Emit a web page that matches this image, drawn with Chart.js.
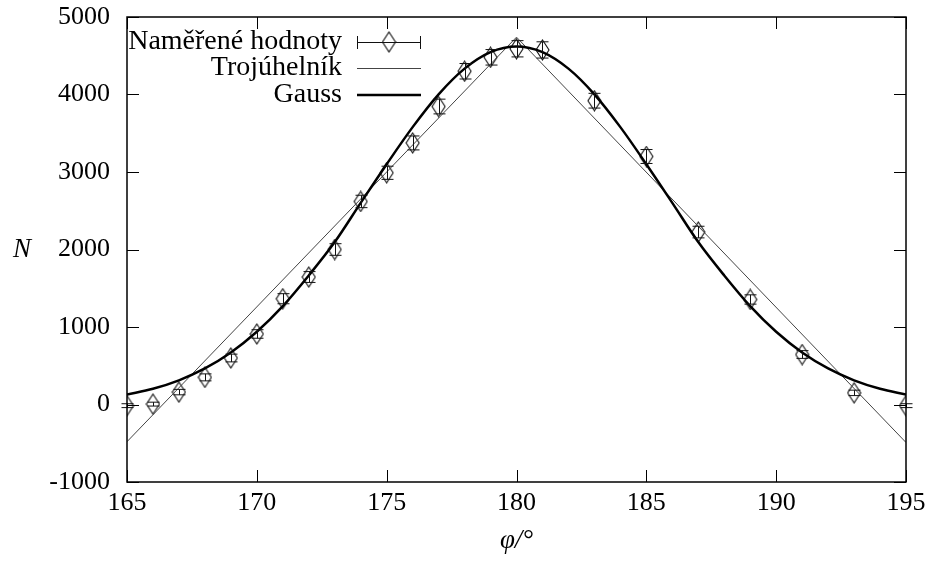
<!DOCTYPE html>
<html>
<head>
<meta charset="utf-8">
<script src="https://cdn.jsdelivr.net/npm/chart.js@4.4.1/dist/chart.umd.min.js"></script>
<style>
  html, body { margin: 0; padding: 0; background: #fff; }
  #wrap { width: 930px; height: 562px; }
</style>
</head>
<body>
<div id="wrap"><canvas id="graf"></canvas></div>
<script>
// DATA
const mereniX = [165,166,167,168,169,170,171,172,173,174,175,176,177,178,179,180,181,183,185,187,189,191,193,195];
const mereniY = [-15,5,160,350,600,910,1365,1645,2000,2620,2990,3375,3845,4300,4480,4590,4575,3920,3200,2225,1355,645,150,-15];
const mereniErr = [25,25,35,45,50,55,65,70,75,80,85,90,95,100,100,105,105,95,90,75,60,50,35,25];

const trojX = [165,180,195];
const trojY = [-480,4740,-490];

const gaussX = [165,166,167,168,169,170,171,172,173,174,175,176,177,178,179,180,181,182,183,184,185,186,187,188,189,190,191,192,193,194,195];
const gaussY = [128,203,312,465,671,938,1269,1665,2096,2602,3101,3579,4002,4334,4547,4620,4547,4334,4002,3579,3101,2602,2096,1665,1269,938,671,465,312,203,128];

const xTicks = [165,170,175,180,185,190,195];
const yTicks = [-1000,0,1000,2000,3000,4000,5000];

const popisky = ["Naměřené hodnoty","Trojúhelník","Gauss"];
const osaX = "φ/°";
const osaY = "N";

const FONT = "Liberation Serif";

// KOSOCTVEREC (bod)
function kosoctverec(){
  const c = document.createElement("canvas");
  c.width = 15; c.height = 22;
  const g = c.getContext("2d");
  g.strokeStyle = "#111"; g.lineWidth = 1.1;
  g.beginPath();
  g.moveTo(7.5,1); g.lineTo(14,11); g.lineTo(7.5,21); g.lineTo(1,11); g.closePath();
  g.stroke();
  return c;
}
const bod = kosoctverec();

// PLUGIN: chybove usecky
const chyby = {
  id: "chyby",
  afterDatasetsDraw(chart){
    const ctx = chart.ctx, sx = chart.scales.x, sy = chart.scales.y;
    ctx.save();
    ctx.strokeStyle = "#111"; ctx.lineWidth = 1;
    mereniX.forEach((x,i) => {
      const px = Math.round(sx.getPixelForValue(x))+0.5;
      const y1 = sy.getPixelForValue(mereniY[i]-mereniErr[i]);
      const y2 = sy.getPixelForValue(mereniY[i]+mereniErr[i]);
      ctx.beginPath();
      ctx.moveTo(px,y1); ctx.lineTo(px,y2);
      ctx.moveTo(px-6,y1); ctx.lineTo(px+6,y1);
      ctx.moveTo(px-6,y2); ctx.lineTo(px+6,y2);
      ctx.stroke();
    });
    ctx.restore();
  }
};

// PLUGIN: ramecek, znacky, popisky os, legenda
const ramecek = {
  id: "ramecek",
  afterDraw(chart){
    const ctx = chart.ctx, a = chart.chartArea, sx = chart.scales.x, sy = chart.scales.y;
    ctx.save();
    ctx.strokeStyle = "#000"; ctx.lineWidth = 1;
    ctx.beginPath();
    xTicks.forEach(v => {
      const p = Math.round(sx.getPixelForValue(v))+0.5;
      ctx.moveTo(p,a.bottom); ctx.lineTo(p,a.bottom-12);
      ctx.moveTo(p,a.top); ctx.lineTo(p,a.top+12);
    });
    yTicks.forEach(v => {
      const p = Math.round(sy.getPixelForValue(v))+0.5;
      ctx.moveTo(a.left,p); ctx.lineTo(a.left+12,p);
      ctx.moveTo(a.right,p); ctx.lineTo(a.right-12,p);
    });
    ctx.stroke();
    ctx.lineWidth = 1.5;
    ctx.strokeRect(a.left,a.top,a.right-a.left,a.bottom-a.top);

    // popisky os
    ctx.fillStyle = "#000";
    ctx.textAlign = "center"; ctx.textBaseline = "middle";
    ctx.font = "italic 27px '"+FONT+"'";
    ctx.fillText(osaY, 22, 250);
    ctx.fillText(osaX, (a.left+a.right)/2, 541);

    // legenda
    ctx.font = "28px '"+FONT+"'";
    ctx.textAlign = "right";
    const rady = [42,68,95];
    popisky.forEach((t,i) => ctx.fillText(t, 342, rady[i]));
    ctx.strokeStyle = "#111"; ctx.lineWidth = 1;
    ctx.beginPath();
    ctx.moveTo(357,42.5); ctx.lineTo(421,42.5);
    ctx.moveTo(357.5,36); ctx.lineTo(357.5,49);
    ctx.moveTo(420.5,36); ctx.lineTo(420.5,49);
    ctx.stroke();
    ctx.drawImage(bod, 389-7.5, 42-11);
    ctx.strokeStyle = "#444"; ctx.lineWidth = 1;
    ctx.beginPath(); ctx.moveTo(357,68.5); ctx.lineTo(421,68.5); ctx.stroke();
    ctx.strokeStyle = "#000"; ctx.lineWidth = 2.5;
    ctx.beginPath(); ctx.moveTo(357,95); ctx.lineTo(421,95); ctx.stroke();
    ctx.restore();
  }
};

const xy = (xs,ys) => xs.map((x,i) => ({x, y: ys[i]}));

new Chart(document.getElementById("graf"), {
  type: "scatter",
  data: {
    datasets: [
      { label: popisky[2], data: xy(gaussX,gaussY), showLine: true, borderColor: "#000", borderWidth: 2.5,
        pointRadius: 0, cubicInterpolationMode: "monotone", order: 1 },
      { label: popisky[1], data: xy(trojX,trojY), showLine: true, borderColor: "#444", borderWidth: 1,
        pointRadius: 0, order: 2 },
      { label: popisky[0], data: xy(mereniX,mereniY), pointStyle: bod, pointRadius: 10, order: 3 }
    ]
  },
  options: {
    responsive: true,
    maintainAspectRatio: false,
    animation: false,
    layout: { padding: { top: 17, right: 24, left: 0, bottom: 0 } },
    plugins: { legend: { display: false }, tooltip: { enabled: false } },
    scales: {
      x: {
        type: "linear", min: 165, max: 195,
        grid: { display: false, drawTicks: false },
        border: { display: false },
        afterBuildTicks: s => { s.ticks = xTicks.map(v => ({value: v})); },
        afterFit: s => { s.height = 80; s.paddingLeft = 0; s.paddingRight = 0; },
        ticks: { autoSkip: false, maxRotation: 0, padding: 6, color: "#000",
          font: { family: FONT, size: 26 }, callback: v => String(v) }
      },
      y: {
        type: "linear", min: -1000, max: 5000,
        grid: { display: false, drawTicks: false },
        border: { display: false },
        afterBuildTicks: s => { s.ticks = yTicks.map(v => ({value: v})); },
        afterFit: s => { s.width = 127; s.paddingTop = 0; s.paddingBottom = 0; },
        ticks: { autoSkip: false, padding: 17, color: "#000",
          font: { family: FONT, size: 26 }, callback: v => String(v) }
      }
    }
  },
  plugins: [chyby, ramecek]
});
</script>
</body>
</html>
